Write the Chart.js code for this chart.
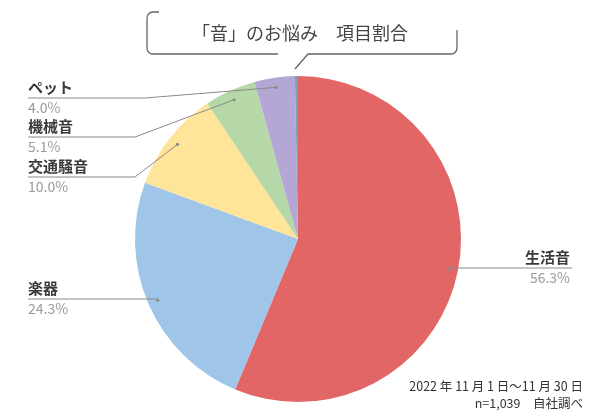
<!DOCTYPE html>
<html>
<head>
<meta charset="utf-8">
<script src="https://cdn.jsdelivr.net/npm/chart.js@4"></script>
<style>
  html, body { margin: 0; padding: 0; background: #fff; }
  #wrap { width: 600px; height: 420px; position: relative; }
</style>
</head>
<body>
<div id="wrap"><canvas id="pie"></canvas></div>
<script>
const categories = ['生活音', '楽器', '交通騒音', '機械音', 'ペット', 'その他'];
const shares = [56.3, 24.3, 10.0, 5.1, 4.0, 0.3];
const sliceColors = ['#e36667', '#9fc5e8', '#ffe599', '#b6d7a8', '#b4a7d6', '#76a5af'];
const titleText = '「音」のお悩み　項目割合';
const noteLines = ['2022 年 11 月 1 日～11 月 30 日', 'n=1,039　自社調べ'];

// where each label sits (line y, elbow x, side); null = no label
const labelLayout = [
  { side: 'right', lineY: 268, elbowX: null },
  { side: 'left', lineY: 299, elbowX: null },
  { side: 'left', lineY: 177, elbowX: 135 },
  { side: 'left', lineY: 137, elbowX: 135 },
  { side: 'left', lineY: 98, elbowX: 145 },
  null
];

const FONT = "'Noto Sans CJK JP', 'Noto Sans', sans-serif";

// leader lines + labels
const labelPlugin = {
  id: 'leaders',
  afterDatasetsDraw(chart) {
    const ctx = chart.ctx;
    const arcs = chart.getDatasetMeta(0).data;
    ctx.save();
    arcs.forEach((arc, i) => {
      const lay = labelLayout[i];
      if (!lay) return;
      const mid = (arc.startAngle + arc.endAngle) / 2;
      const r = arc.outerRadius * 0.94;
      const px = arc.x + Math.cos(mid) * r;
      const py = arc.y + Math.sin(mid) * r;
      const endX = lay.side === 'right' ? 572 : 28;

      ctx.strokeStyle = '#8a8a8a';
      ctx.lineWidth = 1;
      ctx.beginPath();
      ctx.moveTo(px, py);
      if (lay.elbowX !== null) ctx.lineTo(lay.elbowX, lay.lineY);
      else ctx.lineTo(px, lay.lineY);
      ctx.lineTo(endX, lay.lineY);
      ctx.stroke();

      ctx.fillStyle = '#8a8a8a';
      ctx.beginPath();
      ctx.arc(px, py, 1.6, 0, Math.PI * 2);
      ctx.fill();

      ctx.textAlign = lay.side === 'right' ? 'right' : 'left';
      ctx.textBaseline = 'middle';
      const tx = lay.side === 'right' ? 570 : 28;
      ctx.fillStyle = '#3a3a3a';
      ctx.font = 'bold 15px ' + FONT;
      ctx.fillText(categories[i], tx, lay.lineY - 11);
      ctx.fillStyle = '#9a9a9a';
      ctx.font = '14px ' + FONT;
      ctx.fillText(shares[i].toFixed(1) + '%', tx, lay.lineY + 10);
    });

    // title bubble
    ctx.strokeStyle = '#666';
    ctx.lineWidth = 1.3;
    const L = 147, R = 457, T = 12, B = 54, rad = 6;
    ctx.beginPath();
    ctx.moveTo(L + 12, T);
    ctx.lineTo(L + rad, T);
    ctx.arcTo(L, T, L, T + rad, rad);
    ctx.lineTo(L, B - rad);
    ctx.arcTo(L, B, L + rad, B, rad);
    ctx.lineTo(278, B);
    ctx.stroke();
    ctx.beginPath();
    ctx.moveTo(R, 30);
    ctx.lineTo(R, B - rad);
    ctx.arcTo(R, B, R - rad, B, rad);
    ctx.lineTo(308, B);
    ctx.lineTo(295, 69);
    ctx.stroke();

    ctx.fillStyle = '#444';
    ctx.font = '18px ' + FONT;
    ctx.textAlign = 'center';
    ctx.textBaseline = 'middle';
    ctx.fillText(titleText, 300, 33);

    // footnote
    ctx.fillStyle = '#333';
    ctx.font = '12.5px ' + FONT;
    ctx.textAlign = 'right';
    ctx.fillText(noteLines[0], 583, 386);
    ctx.fillText(noteLines[1], 583, 403);
    ctx.restore();
  }
};

new Chart(document.getElementById('pie'), {
  type: 'pie',
  data: {
    labels: categories,
    datasets: [{
      data: shares,
      backgroundColor: sliceColors,
      borderWidth: 0
    }]
  },
  options: {
    responsive: true,
    maintainAspectRatio: false,
    animation: false,
    layout: { padding: { top: 76, bottom: 18, left: 0, right: 4 } },
    plugins: {
      legend: { display: false },
      tooltip: { enabled: false }
    }
  },
  plugins: [labelPlugin]
});
</script>
</body>
</html>
